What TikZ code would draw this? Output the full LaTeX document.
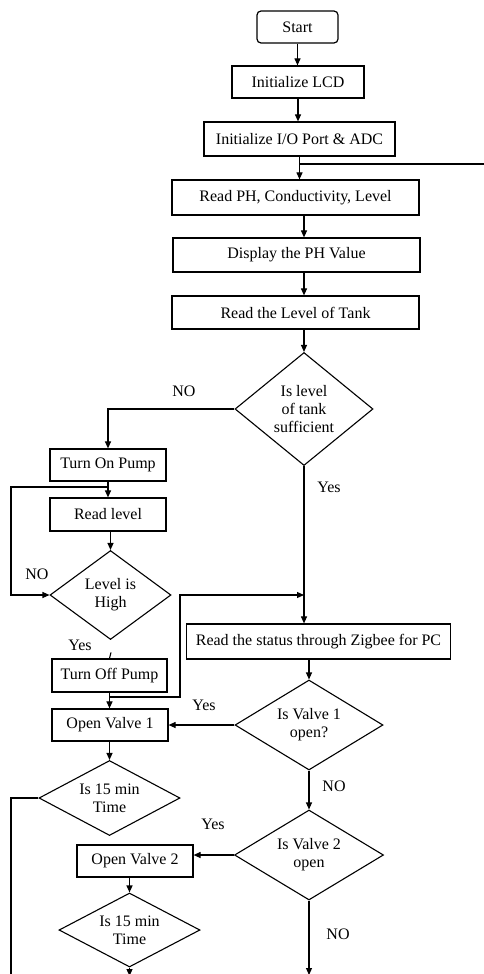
\documentclass[tikz,border=0pt]{standalone}
\usepackage{fontspec}
\setmainfont{Liberation Serif}
\usetikzlibrary{arrows.meta,shapes.geometric,calc}
\begin{document}
\begin{tikzpicture}[x=1pt,y=-1pt,
  every node/.style={font=\fontsize{16}{18}\selectfont},
  box/.style={draw,line width=1.2pt,inner sep=0pt,align=center},
  dia/.style={draw,diamond,line width=1.1pt,inner sep=0pt,align=center},
  flow/.style={line width=1.1pt,-{Triangle[length=7pt,width=6pt]}},
  line/.style={line width=1.1pt},
  lbl/.style={inner sep=0pt}]
\useasboundingbox (0,0) rectangle (484,974);
\fill[white] (0,0) rectangle (484,974);

\node[box,rounded corners=4pt,minimum width=81pt,minimum height=32pt] (start) at (297.5,27) {Start};
\node[box,minimum width=132pt,minimum height=32pt] (lcd) at (298,82) {Initialize LCD};
\node[box,minimum width=191pt,minimum height=34pt] (io) at (299.5,139) {Initialize I/O Port \& ADC};
\node[box,minimum width=247pt,minimum height=35pt] (rph) at (295.5,197.5) {Read PH, Conductivity, Level};
\node[box,minimum width=247pt,minimum height=34pt] (disp) at (296.5,255) {Display the PH Value};
\node[box,minimum width=247pt,minimum height=33pt] (lvl) at (295.5,312.5) {Read the Level of Tank};
\node[dia,minimum width=138pt,minimum height=113pt,aspect=1.22] (d1) at (304,409) {Is level\\of tank\\sufficient};
\node[box,minimum width=116pt,minimum height=32pt] (pon) at (108,465) {Turn On Pump};
\node[box,minimum width=116pt,minimum height=33pt] (rl) at (108,514.5) {Read level};
\node[dia,minimum width=121pt,minimum height=89pt,aspect=1.36] (dh) at (110.5,595) {Level is\\High};
\node[box,minimum width=115pt,minimum height=33pt] (poff) at (109.5,675.5) {Turn Off Pump};
\node[box,minimum width=116pt,minimum height=32pt] (ov1) at (110,725) {Open Valve 1};
\node[box,minimum width=264pt,minimum height=35pt] (zig) at (318.5,641.5) {Read the status through Zigbee for PC};
\node[dia,minimum width=148pt,minimum height=90pt,aspect=1.64] (dv1) at (309,725) {Is Valve 1\\open?};
\node[dia,minimum width=141pt,minimum height=75pt,aspect=1.88] (dt1) at (109.5,798) {Is 15 min\\Time};
\node[dia,minimum width=149pt,minimum height=90pt,aspect=1.65] (dv2) at (309,855) {Is Valve 2\\open};
\node[box,minimum width=116pt,minimum height=32pt] (ov2) at (135,861) {Open Valve 2};
\node[dia,minimum width=141pt,minimum height=74pt,aspect=1.9] (dt2) at (129.5,930) {Is 15 min\\Time};

\coordinate (ret) at (484,164);
\coordinate (lp) at (11,487);
\coordinate (rb) at (180,697);
\coordinate (lb) at (11,980);
\coordinate (endL) at (129.5,976);
\coordinate (endR) at (309,975);

\draw[flow] (start.south) -- (start.south |- lcd.north);
\draw[flow] (lcd.south) -- (lcd.south |- io.north);
\draw[flow] (io.south) -- (io.south |- rph.north);
\draw[line] (ret) -- (ret -| io.south);
\draw[flow] (d1.north |- rph.south) -- (d1.north |- disp.north);
\draw[flow] (d1.north |- disp.south) -- (d1.north |- lvl.north);
\draw[flow] (d1.north |- lvl.south) -- (d1.north);
\draw[flow] (d1.west) -| (pon.north);
\draw[flow] (pon.south) -- (rl.north);
\draw[flow] (lp -| pon.south) -- (lp) |- (dh.west);
\draw[flow] (dh.north |- rl.south) -- (dh.north);
\draw[line] (poff.north) -- ++(1.5,-6);
\draw[flow] (poff.south) -- (poff.south |- ov1.north);
\draw[flow] (rb -| poff.south) -- (rb) |- (dh.east -| d1.south);
\draw[flow] (d1.south) -- (d1.south |- zig.north);
\draw[flow] (dv1.north |- zig.south) -- (dv1.north);
\draw[flow] (dv1.west) -- (dv1.west -| ov1.east);
\draw[flow] (dt1.north |- ov1.south) -- (dt1.north);
\draw[line] (dt1.west) -| (lb);
\draw[flow] (dv1.south) -- (dv2.north);
\draw[flow] (dv2.west) -- (dv2.west -| ov2.east);
\draw[flow] (dt2.north |- ov2.south) -- (dt2.north);
\draw[flow] (dt2.south) -- (endL);
\draw[flow] (dv2.south) -- (endR);

\node[lbl] (no1) at (184,391) {NO};
\node[lbl] (yes1) at (329,487) {Yes};
\node[lbl] (no2) at (37,574) {NO};
\node[lbl] (yes2) at (80,645) {Yes};
\node[lbl] (yes3) at (204,705) {Yes};
\node[lbl] (no3) at (334,786) {NO};
\node[lbl] (yes4) at (213,824) {Yes};
\node[lbl] (no4) at (338,934) {NO};
\end{tikzpicture}
\end{document}
